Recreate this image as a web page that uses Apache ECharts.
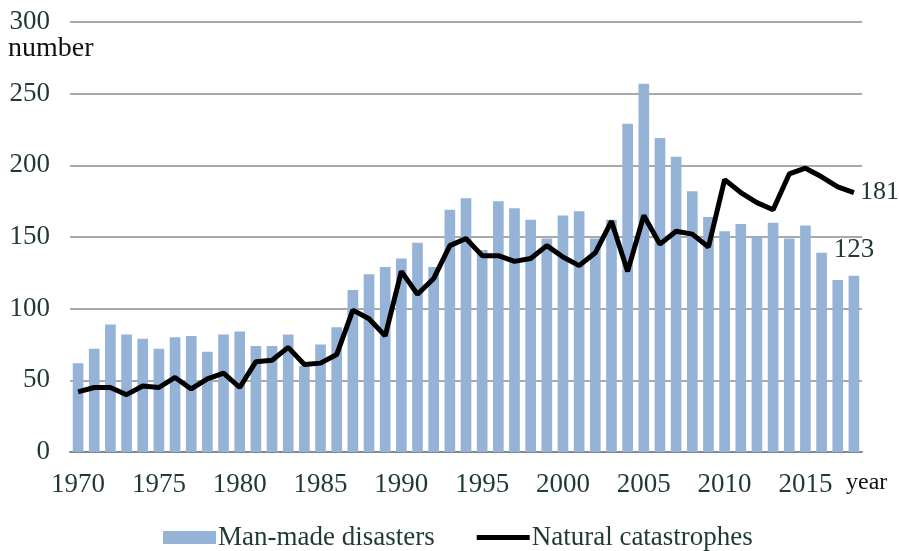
<!DOCTYPE html>
<html>
<head>
<meta charset="utf-8">
<script src="https://cdn.jsdelivr.net/npm/echarts@6/dist/echarts.min.js"></script>
<style>
html,body{margin:0;padding:0;background:#fff;}
#c{width:899px;height:551px;}
</style>
</head>
<body>
<div id="c"></div>
<script>
var years = [];
for (var y = 1970; y <= 2018; y++) years.push(String(y));

var manMade = [62,72,89,82,79,72,80,81,70,82,84,74,74,82,60,75,87,113,124,129,135,146,129,169,177,141,175,170,162,149,165,168,149,162,229,257,219,206,182,164,154,159,150,160,149,158,139,120,123];
var natural = [42,45,45,40,46,45,52,44,51,55,45,63,64,73,61,62,68,99,93,81,126,110,121,144,149,137,137,133,135,144,136,130,139,161,126,165,145,154,152,143,190,181,174,169,194,198,192,185,181];

var yTicks = [0,50,100,150,200,250,300];

var serif = "'Liberation Serif','Times New Roman','DejaVu Serif',serif";
var textCol = '#1f3a30';

var chart = echarts.init(document.getElementById('c'));
chart.setOption({
  animation: false,
  backgroundColor: '#fff',
  textStyle: {fontFamily: serif},
  grid: {left: 70, right: 37, top: 22, bottom: 99, containLabel: false},
  legend: {
    top: 519,
    left: 158,
    itemWidth: 53,
    itemHeight: 13,
    itemGap: 42,
    symbolKeepAspect: true,
    textStyle: {fontFamily: serif, fontSize: 27, color: textCol, padding: [0,0,0,-3]},
    data: [
      {name: 'Man-made disasters', icon: 'rect'},
      {name: 'Natural catastrophes', icon: 'path://M0,0L52,0L52,5L0,5Z', itemStyle: {color: '#000'}}
    ]
  },
  xAxis: {
    type: 'category',
    data: years,
    axisTick: {show: false},
    axisLine: {lineStyle: {color: '#7d8c86', width: 2}},
    axisLabel: {
      interval: 4,
      fontFamily: serif,
      fontSize: 27,
      color: textCol,
      margin: 19
    }
  },
  yAxis: {
    type: 'value',
    min: yTicks[0],
    max: yTicks[yTicks.length - 1],
    interval: 50,
    axisLine: {show: false},
    axisTick: {show: false},
    splitLine: {lineStyle: {color: '#8c8c8c', width: 1.5}},
    axisLabel: {fontFamily: serif, fontSize: 27, color: textCol, margin: 20}
  },
  graphic: [
    {type: 'text', left: 8, top: 35, style: {text: 'number', font: "28px " + serif, fill: '#111'}},
    {type: 'text', left: 846, top: 471, style: {text: 'year', font: "24px " + serif, fill: '#111'}}
  ],
  series: [
    {
      name: 'Man-made disasters',
      type: 'bar',
      data: manMade.map(function (v, i) {
        if (i === manMade.length - 1) {
          return {value: v, label: {show: true, position: 'top', distance: 12, formatter: '{c}', fontFamily: serif, fontSize: 27, color: textCol}};
        }
        return v;
      }),
      barCategoryGap: '34%',
      itemStyle: {color: '#95b3d7'}
    },
    {
      name: 'Natural catastrophes',
      type: 'line',
      data: natural,
      symbol: 'none',
      lineStyle: {color: '#000', width: 5},
      itemStyle: {color: '#000'},
      endLabel: {show: true, formatter: '{c}', distance: 6, fontFamily: serif, fontSize: 26, color: textCol}
    }
  ]
});
</script>
</body>
</html>
